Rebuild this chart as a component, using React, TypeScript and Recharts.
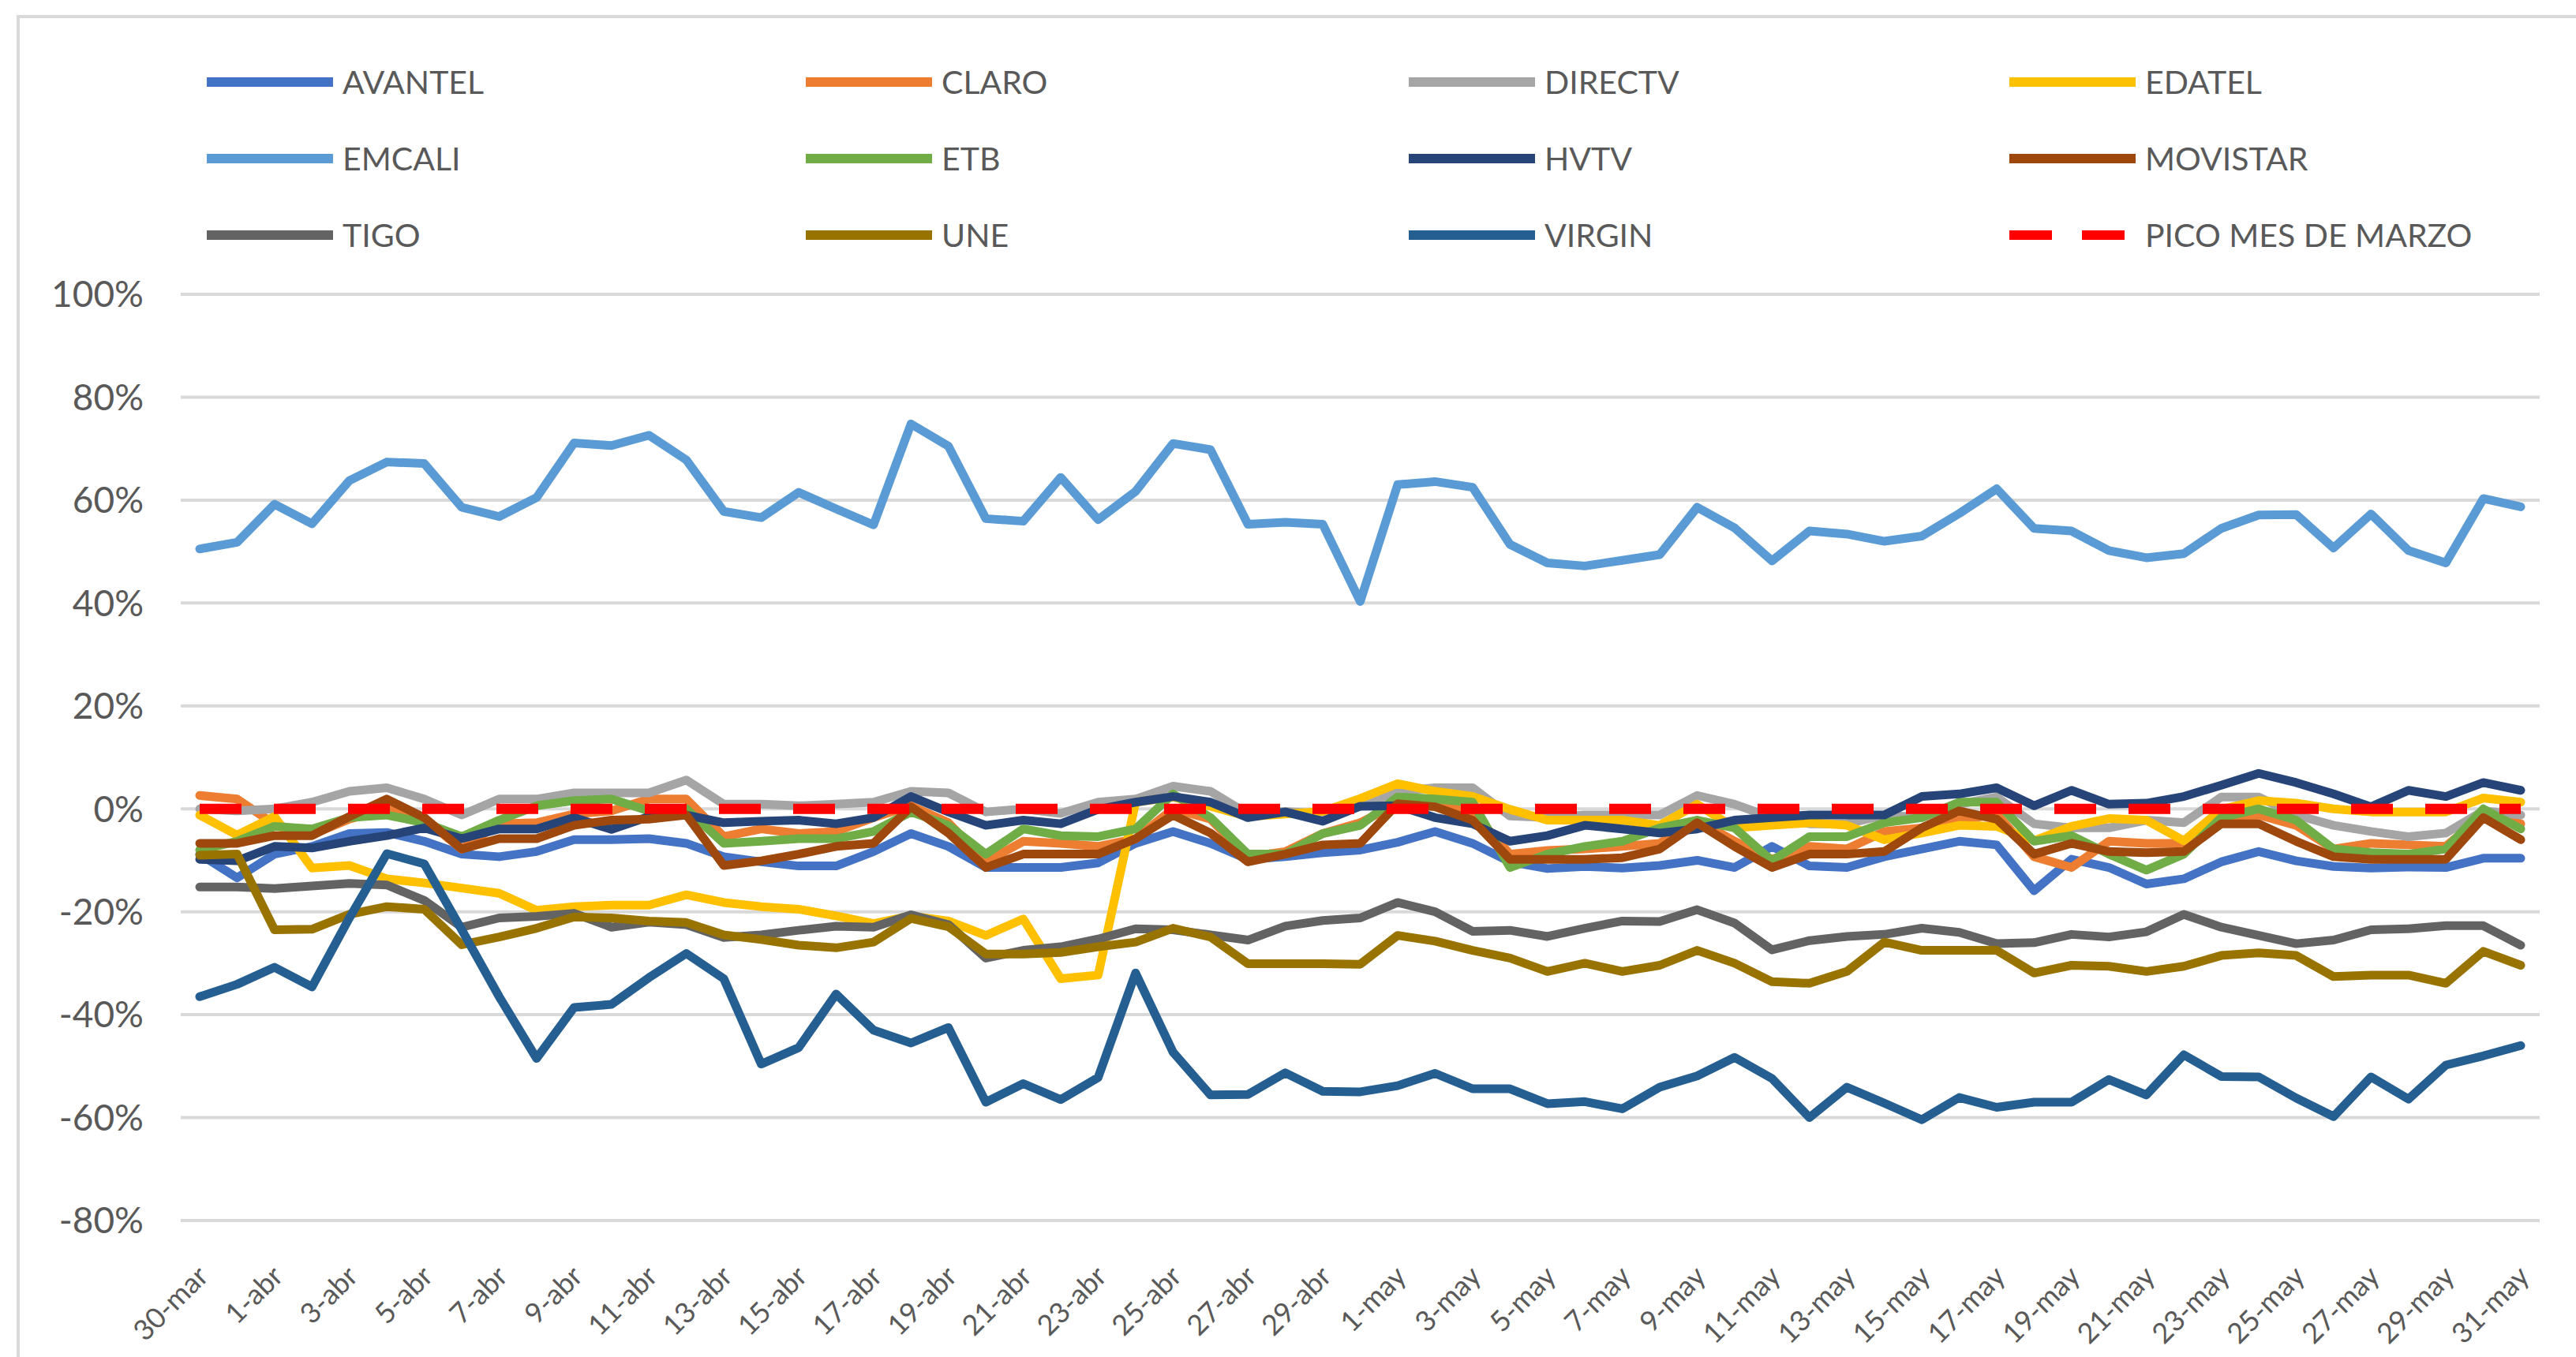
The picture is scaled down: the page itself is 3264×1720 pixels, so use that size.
import { LineChart, Line, XAxis, YAxis, CartesianGrid } from "recharts";

const dates = [
  "30-mar", "31-mar",
  "1-abr", "2-abr", "3-abr", "4-abr", "5-abr", "6-abr", "7-abr", "8-abr", "9-abr", "10-abr",
  "11-abr", "12-abr", "13-abr", "14-abr", "15-abr", "16-abr", "17-abr", "18-abr", "19-abr", "20-abr",
  "21-abr", "22-abr", "23-abr", "24-abr", "25-abr", "26-abr", "27-abr", "28-abr", "29-abr", "30-abr",
  "1-may", "2-may", "3-may", "4-may", "5-may", "6-may", "7-may", "8-may", "9-may", "10-may",
  "11-may", "12-may", "13-may", "14-may", "15-may", "16-may", "17-may", "18-may", "19-may", "20-may",
  "21-may", "22-may", "23-may", "24-may", "25-may", "26-may", "27-may", "28-may", "29-may", "30-may",
  "31-may",
];

const avantel = [
  -8.8, -13.4, -8.8, -7.3, -4.8, -4.6, -6.3, -8.8, -9.3, -8.3,
  -6, -6, -5.8, -6.7, -9.3, -10.3, -11.1, -11.1, -8.3, -4.8,
  -7.3, -11.4, -11.4, -11.4, -10.5, -6.7, -4.4, -6.7, -9.8, -9.3,
  -8.5, -8, -6.5, -4.4, -6.7, -10.3, -11.6, -11.2, -11.5, -11,
  -10, -11.4, -7.3, -11.1, -11.4, -9.3, -7.8, -6.3, -7, -15.9,
  -9.8, -11.4, -14.6, -13.6, -10.3, -8.3, -10.1, -11.2, -11.5, -11.3,
  -11.4, -9.6, -9.6,
];
const claro = [
  2.6, 1.9, -3, -5, -2, 0, -2, -7.8, -2.9, -2.7,
  -1, -0.4, 1.9, 1.9, -5.4, -3.9, -4.8, -4.4, -1.7, 0.6,
  -2.7, -10.3, -6.3, -6.7, -7.3, -5.8, 0, -2, -9.3, -8.3,
  -4.8, -2.7, 1, 0.9, -0.6, -8.8, -8.1, -7.8, -7.3, -6.7,
  -2.2, -6.3, -9.8, -7.3, -7.8, -4.4, -3.7, -2.2, -1, -9.3,
  -11.4, -6.3, -6.7, -6.7, -2.5, -1.2, -3.2, -7.8, -6.7, -7,
  -7.3, -1.2, -2.9,
];
const directv = [
  0, -0.4, 0, 1.3, 3.4, 4.1, 1.9, -1.2, 1.9, 1.9,
  3.1, 3.1, 3.1, 5.6, 0.9, 0.9, 0.6, 0.9, 1.3, 3.4,
  3.1, -0.6, 0, -0.9, 1.3, 1.9, 4.4, 3.4, -1, -0.5,
  -1, 0.5, 3.4, 4.1, 4.1, -1.4, -1.7, -1.2, -1.2, -1.2,
  2.6, 0.9, -1.7, -2.9, -2.9, -1.2, -1.7, 0.9, 2.3, -2.9,
  -3.7, -3.7, -2.2, -2.7, 2.3, 2.3, -1.2, -3.2, -4.4, -5.4,
  -4.7, -0.4, -1.2,
];
const edatel = [
  -1.2, -5.1, -1.5, -11.5, -11, -13.6, -14.4, -15.4, -16.4, -19.7,
  -19, -18.7, -18.7, -16.7, -18.2, -19, -19.5, -20.8, -22.3, -20.8,
  -21.8, -24.6, -21.4, -33, -32.3, 1.3, 2.3, 0.5, -1.5, -1,
  -0.5, 2, 4.9, 3.4, 2.4, -0.1, -2.2, -2.2, -2.2, -3.2,
  0.9, -3.7, -3.2, -2.7, -3.2, -6, -4.7, -3.2, -3.4, -6.2,
  -3.4, -1.9, -2.2, -6.2, -0.1, 1.6, 1.1, 0, -0.6, -0.6,
  -0.6, 2.1, 1.3,
];
const emcali = [
  50.5, 51.8, 59.2, 55.4, 63.8, 67.4, 67.1, 58.6, 56.8, 60.5,
  71.1, 70.6, 72.6, 67.8, 57.8, 56.6, 61.5, 58.3, 55.2, 74.8,
  70.5, 56.4, 55.9, 64.4, 56.2, 61.7, 71, 69.8, 55.3, 55.7,
  55.3, 40.3, 63, 63.6, 62.5, 51.4, 47.8, 47.2, 48.3, 49.4,
  58.6, 54.6, 48.2, 54, 53.4, 52, 53, 57.4, 62.2, 54.5,
  54, 50.2, 48.8, 49.6, 54.5, 57.1, 57.2, 50.7, 57.3, 50.2,
  47.8, 60.3, 58.7,
];
const etb = [
  -8, -6.3, -3.4, -3.9, -1.7, -1.2, -2.7, -5.4, -2.2, 0.6,
  1.6, 1.9, -0.4, 0, -6.7, -6.3, -5.8, -5.8, -4.4, -0.6,
  -3.2, -8.8, -3.9, -5.2, -5.4, -3.9, 2.9, -1.7, -8.8, -8.8,
  -4.8, -3.2, 2.3, 1.9, 1.3, -11.4, -8.8, -7.3, -6.3, -3.7,
  -2.2, -3.7, -10.1, -5.4, -5.4, -2.7, -1.7, 1.3, 1.3, -6.3,
  -5.2, -8.8, -11.9, -8.8, -1.7, 0, -2.2, -7.8, -8.5, -8.8,
  -7.8, 0, -3.9,
];
const hvtv = [
  -9.8, -10.1, -7.3, -7.6, -6.3, -5.2, -3.7, -5.8, -3.9, -3.9,
  -1.7, -4, -1.5, -1.2, -2.7, -2.4, -2.2, -2.9, -1.7, 2.4,
  -0.6, -3.2, -2.2, -2.9, -0.1, 1.3, 2.4, 1.3, -1.7, -0.6,
  -2.4, 0.5, 0.6, -1.7, -2.9, -6.3, -5.2, -3.2, -3.9, -4.7,
  -3.9, -2.2, -1.7, -1.2, -1.2, -1.2, 2.4, 2.9, 4.1, 0.6,
  3.6, 0.9, 1.1, 2.4, 4.6, 6.9, 5.1, 2.9, 0.4, 3.6,
  2.4, 5.1, 3.6,
];
const movistar = [
  -6.7, -6.7, -5.2, -5.2, -1.5, 1.9, -1.7, -7.8, -5.8, -5.8,
  -3.2, -2.2, -2, -1.2, -11, -10.1, -8.8, -7.3, -6.7, 0.4,
  -4.7, -11.4, -8.8, -8.8, -8.8, -5.8, -1.2, -4.7, -10.3, -8.8,
  -7, -6.7, 1, 0.4, -2.2, -9.8, -9.8, -9.8, -9.5, -7.8,
  -2.7, -7.3, -11.4, -8.8, -8.8, -8.3, -3.7, -0.4, -2, -8.8,
  -6.7, -8.3, -8.5, -8.3, -2.9, -2.9, -6.3, -9.3, -9.8, -9.8,
  -9.8, -1.7, -6,
];
const tigo = [
  -15.2, -15.2, -15.5, -15, -14.5, -14.8, -17.8, -23, -21.2, -20.9,
  -20.3, -23, -22, -22.5, -25, -24.5, -23.6, -22.8, -23, -20.6,
  -22.5, -29, -27.5, -26.8, -25.3, -23.3, -23.5, -24.5, -25.5, -22.8,
  -21.7, -21.2, -18.2, -20, -23.8, -23.6, -24.8, -23.2, -21.8, -21.9,
  -19.6, -22.2, -27.4, -25.6, -24.8, -24.4, -23.2, -24, -26.2, -26,
  -24.4, -24.9, -23.9, -20.5, -23, -24.6, -26.2, -25.5, -23.5, -23.3,
  -22.7, -22.7, -26.5,
];
const une = [
  -9, -8.8, -23.5, -23.4, -20.5, -19, -19.5, -26.4, -24.9, -23.2,
  -21, -21.2, -21.8, -22.1, -24.5, -25.4, -26.5, -27, -25.9, -21.3,
  -22.9, -28.2, -28.2, -27.9, -26.8, -25.9, -23.2, -24.9, -30.1, -30.1,
  -30.1, -30.2, -24.6, -25.7, -27.5, -29, -31.6, -30, -31.6, -30.4,
  -27.5, -30, -33.6, -33.9, -31.6, -25.9, -27.5, -27.5, -27.5, -31.9,
  -30.4, -30.6, -31.6, -30.6, -28.5, -28, -28.5, -32.6, -32.3, -32.3,
  -33.9, -27.7, -30.4,
];
const virgin = [
  -36.5, -34.1, -30.8, -34.6, -21.2, -8.7, -10.7, -23.5, -36.5, -48.5,
  -38.6, -38, -32.8, -28.1, -33, -49.6, -46.4, -36, -43, -45.5,
  -42.5, -57, -53.4, -56.5, -52.2, -31.9, -47.3, -55.6, -55.5, -51.3,
  -54.9, -55, -53.8, -51.4, -54.4, -54.4, -57.3, -56.9, -58.3, -54.1,
  -51.9, -48.3, -52.4, -60, -54.1, -57.2, -60.4, -56.1, -58, -57,
  -57, -52.6, -55.6, -47.8, -52, -52.1, -56.2, -59.8, -52.1, -56.4,
  -49.8, -48, -46,
];
const picoMarzo = [
  0, 0, 0, 0, 0, 0, 0, 0, 0, 0,
  0, 0, 0, 0, 0, 0, 0, 0, 0, 0,
  0, 0, 0, 0, 0, 0, 0, 0, 0, 0,
  0, 0, 0, 0, 0, 0, 0, 0, 0, 0,
  0, 0, 0, 0, 0, 0, 0, 0, 0, 0,
  0, 0, 0, 0, 0, 0, 0, 0, 0, 0,
  0, 0, 0,
];

const yTicks = [-80, -60, -40, -20, 0, 20, 40, 60, 80, 100];

const series = [
  { key: "avantel", name: "AVANTEL", color: "#4472C4", values: avantel },
  { key: "claro", name: "CLARO", color: "#ED7D31", values: claro },
  { key: "directv", name: "DIRECTV", color: "#A5A5A5", values: directv },
  { key: "edatel", name: "EDATEL", color: "#FFC000", values: edatel },
  { key: "emcali", name: "EMCALI", color: "#5B9BD5", values: emcali },
  { key: "etb", name: "ETB", color: "#70AD47", values: etb },
  { key: "hvtv", name: "HVTV", color: "#264478", values: hvtv },
  { key: "movistar", name: "MOVISTAR", color: "#9E480E", values: movistar },
  { key: "tigo", name: "TIGO", color: "#636363", values: tigo },
  { key: "une", name: "UNE", color: "#997300", values: une },
  { key: "virgin", name: "VIRGIN", color: "#255E91", values: virgin },
  { key: "pico", name: "PICO MES DE MARZO", color: "#FF0000", values: picoMarzo, dashed: true },
];

const data = dates.map((date, i) => {
  const row: Record<string, string | number> = { date };
  series.forEach((s) => {
    row[s.key] = s.values[i];
  });
  return row;
});

const FONT = "Lato, 'Open Sans', sans-serif";
const TEXT = "#595959";

const legendCols = [262, 1021, 1785, 2546];
const legendRows = [104, 201, 298];

function ChartLegend() {
  return (
    <>
      {series.map((s, i) => {
        const left = legendCols[i % 4];
        const top = legendRows[Math.floor(i / 4)];
        return (
          <div
            key={s.key}
            style={{
              position: "absolute",
              left,
              top: top - 30,
              height: 60,
              display: "flex",
              alignItems: "center",
              whiteSpace: "nowrap",
            }}
          >
            <svg width={160} height={14} style={{ display: "block" }}>
              <line
                x1={0}
                y1={7}
                x2={s.dashed ? 146 : 160}
                y2={7}
                stroke={s.color}
                strokeWidth={12}
                strokeDasharray={s.dashed ? "54 38" : undefined}
              />
            </svg>
            <span style={{ marginLeft: 12, fontSize: 41, color: TEXT, fontFamily: FONT, lineHeight: "60px" }}>
              {s.name}
            </span>
          </div>
        );
      })}
    </>
  );
}

function DateTick(props: any) {
  const { x, y, payload } = props;
  return (
    <text
      x={x + 4}
      y={y}
      transform={`rotate(-45 ${x + 4} ${y})`}
      textAnchor="end"
      dy="0.35em"
      fill={TEXT}
      fontSize={36}
      fontFamily={FONT}
    >
      {payload.value}
    </text>
  );
}

export default function App() {
  return (
    <div style={{ position: "absolute", left: 0, top: 0, width: 3264, height: 1720, background: "#fff", overflow: "hidden" }}>
      <div
        style={{
          position: "absolute",
          left: 21,
          top: 19,
          width: 3300,
          height: 1800,
          borderTop: "4px solid #d9d9d9",
          borderLeft: "4px solid #d9d9d9",
        }}
      />
      <ChartLegend />
      <div style={{ position: "absolute", left: 0, top: 0 }}>
        <LineChart width={3264} height={1720} data={data} margin={{ top: 373, right: 46, bottom: 0, left: 0 }}>
          <CartesianGrid vertical={false} stroke="#d9d9d9" strokeWidth={4} />
          <XAxis
            dataKey="date"
            interval={1}
            axisLine={false}
            tickLine={false}
            tickSize={0}
            tickMargin={64}
            height={173}
            padding={{ left: 24, right: 24 }}
            tick={<DateTick />}
          />
          <YAxis
            type="number"
            domain={[-80, 100]}
            ticks={yTicks}
            width={229}
            axisLine={false}
            tickLine={false}
            tickSize={0}
            tickMargin={47}
            tickFormatter={(v: number) => `${v}%`}
            tick={{ fill: TEXT, fontSize: 46, fontFamily: FONT }}
          />
          {series.map((s) => (
            <Line
              key={s.key}
              type="linear"
              dataKey={s.key}
              name={s.name}
              stroke={s.color}
              strokeWidth={s.dashed ? 13 : 11}
              strokeDasharray={s.dashed ? "53 41" : undefined}
              strokeLinejoin="round"
              strokeLinecap={s.dashed ? "butt" : "round"}
              dot={false}
              activeDot={false}
              isAnimationActive={false}
            />
          ))}
        </LineChart>
      </div>
    </div>
  );
}
